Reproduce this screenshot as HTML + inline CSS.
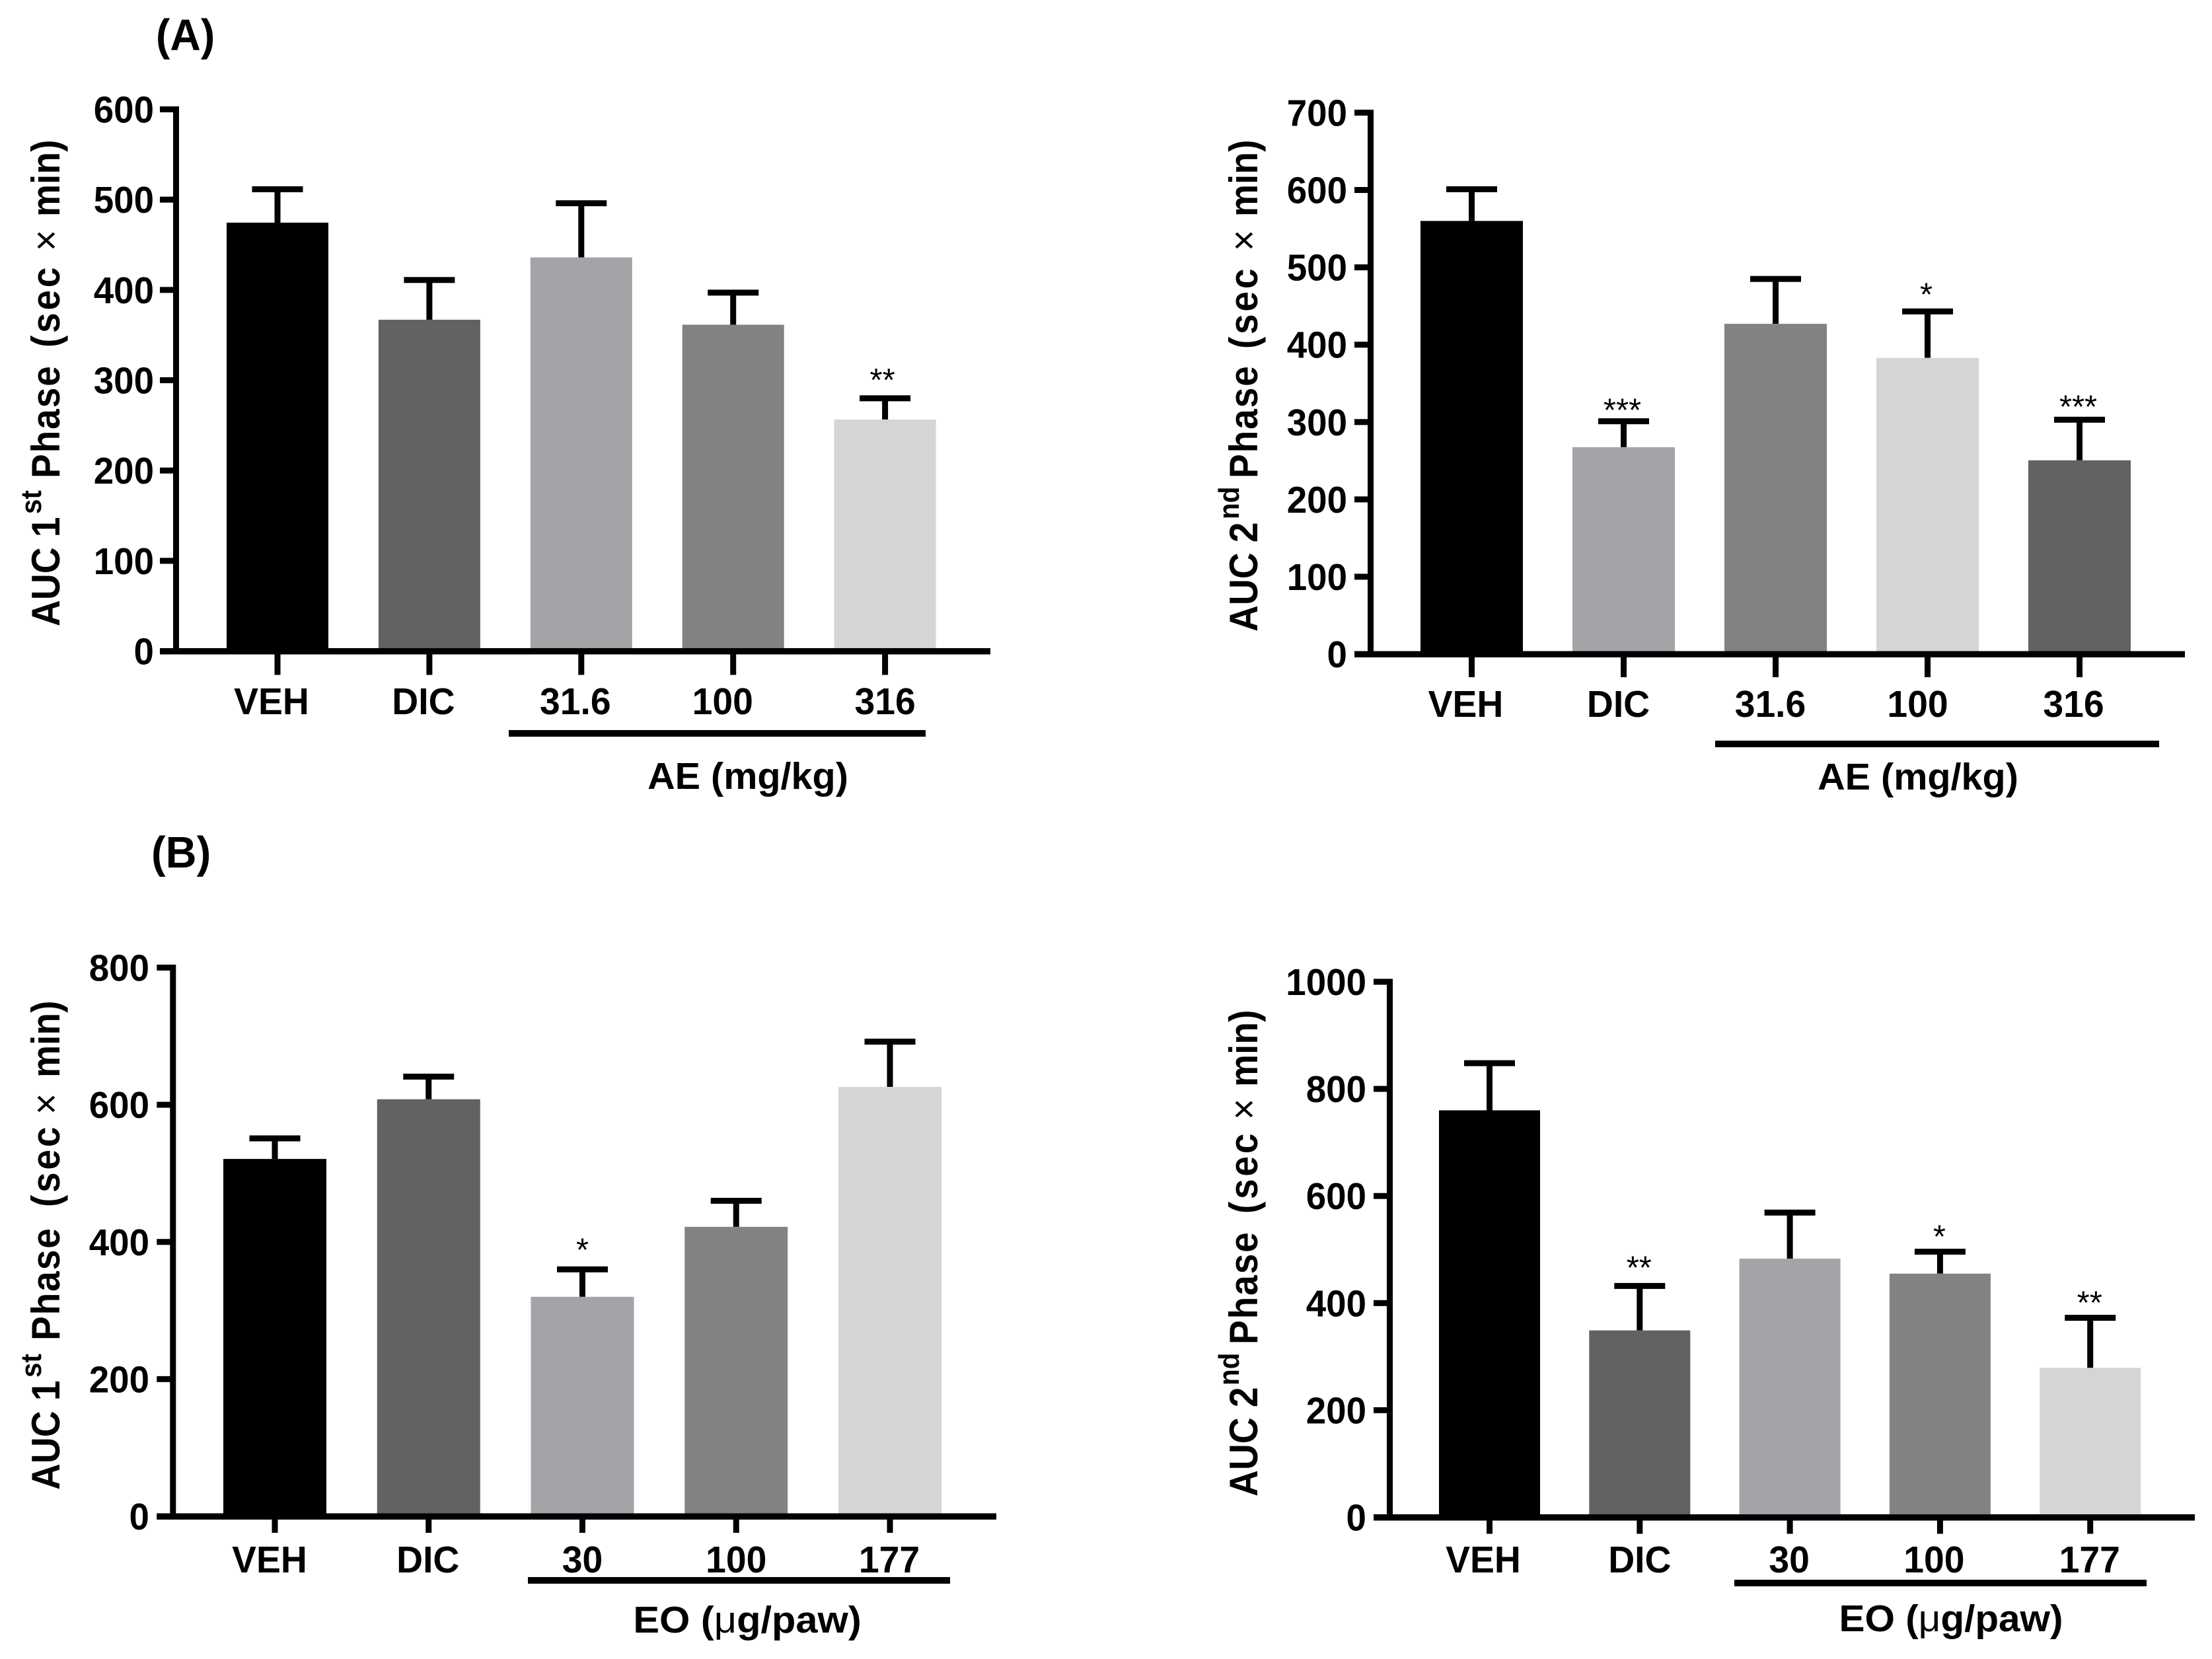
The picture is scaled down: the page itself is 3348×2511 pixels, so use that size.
<!DOCTYPE html>
<html lang="en">
<head>
<meta charset="utf-8">
<title>AUC bar charts</title>
<style>
html,body{margin:0;padding:0;background:#fff}
svg{display:block}
text{font-family:"Liberation Sans",Arial,sans-serif;fill:#000}
</style>
</head>
<body>
<svg id="figure" xmlns="http://www.w3.org/2000/svg" width="3348" height="2511" viewBox="0 0 3348 2511">
<rect x="0" y="0" width="3348" height="2511" fill="#fff"/>
<text transform="translate(236,76) scale(.96,1)" font-size="67" font-weight="700">(A)</text>
<text transform="translate(229,1313) scale(.97,1)" font-size="67" font-weight="700">(B)</text>
</svg>
<script>
const categoriesA1 = ['VEH', 'DIC', '31.6', '100', '316'];
const valuesA1 = [474.5, 367, 436, 361.5, 256.5];
const errorTopsA1 = [511.5, 411, 496, 397, 280];
const significanceA1 = ['', '', '', '', '**'];
const tickLabelsA1 = [0, 100, 200, 300, 400, 500, 600];

const categoriesA2 = ['VEH', 'DIC', '31.6', '100', '316'];
const valuesA2 = [560, 267.5, 427, 383, 250.5];
const errorTopsA2 = [601, 301, 485, 443, 303];
const significanceA2 = ['', '***', '', '*', '***'];
const tickLabelsA2 = [0, 100, 200, 300, 400, 500, 600, 700];

const categoriesB1 = ['VEH', 'DIC', '30', '100', '177'];
const valuesB1 = [521, 608, 320, 422, 626];
const errorTopsB1 = [551, 641, 360, 460, 692];
const significanceB1 = ['', '', '*', '', ''];
const tickLabelsB1 = [0, 200, 400, 600, 800];

const categoriesB2 = ['VEH', 'DIC', '30', '100', '177'];
const valuesB2 = [760, 349, 483, 455, 279];
const errorTopsB2 = [848, 432, 569, 496, 372.5];
const significanceB2 = ['', '**', '', '*', '**'];
const tickLabelsB2 = [0, 200, 400, 600, 800, 1000];

const BLACK = '#000000', DARK = '#626262', MID = '#a3a4a8', GREY = '#828282', LIGHT = '#d5d5d5';
const NS = 'http://www.w3.org/2000/svg';
const svg = document.getElementById('figure');

function makeRect(parent, x, y, w, h, fill) {
  const r = document.createElementNS(NS, 'rect');
  r.setAttribute('x', x);
  r.setAttribute('y', y);
  r.setAttribute('width', w);
  r.setAttribute('height', h);
  r.setAttribute('fill', fill);
  parent.appendChild(r);
  return r;
}

function makeText(parent, str, x, y, size, sx, anchor, weight) {
  const t = document.createElementNS(NS, 'text');
  t.setAttribute('transform', 'translate(' + x + ',' + y + ') scale(' + sx + ',1)');
  t.setAttribute('font-size', size);
  t.setAttribute('font-weight', weight);
  t.setAttribute('text-anchor', anchor);
  t.textContent = str;
  parent.appendChild(t);
  return t;
}

function makeTitle(parent, cfg) {
  const squeeze = 0.92;
  const t = document.createElementNS(NS, 'text');
  t.setAttribute('transform', 'translate(' + cfg.titleX + ',' + cfg.titleBottom + ') rotate(-90) scale(' + squeeze + ',1)');
  t.setAttribute('font-size', '60');
  t.setAttribute('font-weight', '700');
  const parts = [
    [cfg.titleLead, 0, 0, 60, 700, 0],
    [cfg.titleSup, cfg.supAt, -28, 44, 700, 0],
    ['Phase', cfg.phaseAt, 28, 60, 700, 2],
    ['(sec', cfg.parenAt, 0, 60, 700, 4],
    ['\u00d7', cfg.timesAt, 0, 60, 400, 0],
    ['min)', cfg.minAt, 0, 60, 700, 0]
  ];
  parts.forEach(function (p) {
    const s = document.createElementNS(NS, 'tspan');
    s.setAttribute('x', p[1] / squeeze);
    s.setAttribute('dy', p[2]);
    s.setAttribute('font-size', p[3]);
    s.setAttribute('font-weight', p[4]);
    s.setAttribute('letter-spacing', p[5]);
    s.textContent = p[0];
    t.appendChild(s);
  });
  parent.appendChild(t);
  return t;
}

function drawPanel(cfg, categories, values, errorTops, significance, tickLabels) {
  const g = document.createElementNS(NS, 'g');
  
  
  svg.appendChild(g);

  const yMax = tickLabels[tickLabels.length - 1];
  const yScale = function (v) { return cfg.zero - v * (cfg.zero - cfg.top) / yMax; };
  const xScale = function (i) { return cfg.x0 + i * cfg.step; };

  categories.forEach(function (cat, i) {
    const cx = xScale(i);
    const top = yScale(values[i]);
    const errTop = yScale(errorTops[i]);

    const stem = makeRect(g, cx - 4.5, errTop, 9, top - errTop, BLACK);
    
    

    const cap = makeRect(g, cx - 38.5, errTop - 4.5, 77, 9, BLACK);
    
    

    const bar = makeRect(g, cx - cfg.barWidth / 2, top, cfg.barWidth, cfg.zero - top, cfg.colors[i]);
    
    

    const tick = makeRect(g, cx - 4.5, cfg.zero, 9, cfg.tickLen, BLACK);
    
    

    const label = makeText(g, cat, cx + cfg.labelDx[i], cfg.labelY, 57, 0.97, 'middle', 700);
    
    

    if (significance[i]) {
      const star = makeText(g, significance[i], cx + cfg.starDx, errTop - cfg.starGap[i] + 21, 49, 1, 'middle', 400);
      
      
    }
  });

  tickLabels.forEach(function (v) {
    const y = yScale(v);
    const tick = makeRect(g, cfg.axisX - 24.5, y - 4.5, 24.5, 9, BLACK);
    
    

    const label = makeText(g, String(v), cfg.labelRight, y + 20, 57, 0.96, 'end', 700);
    
    
  });

  const yAxis = makeRect(g, cfg.axisX - 4.5, cfg.top - 4.5, 9, cfg.zero - cfg.top + 9, BLACK);
  
  

  const xAxis = makeRect(g, cfg.axisX - 24.5, cfg.zero - 4.5, cfg.xEnd - cfg.axisX + 24.5, 9.5, BLACK);
  
  

  const under = makeRect(g, cfg.lineStart, cfg.lineY - 5, cfg.lineEnd - cfg.lineStart, 10, BLACK);
  
  

  const group = document.createElementNS(NS, 'text');
  group.setAttribute('transform', 'translate(' + cfg.groupX + ',' + cfg.groupY + ') scale(' + cfg.groupSx + ',1)');
  group.setAttribute('font-size', '57');
  group.setAttribute('font-weight', '700');
  group.setAttribute('text-anchor', 'middle');
  
  
  cfg.groupParts.forEach(function (p) {
    const s = document.createElementNS(NS, 'tspan');
    s.setAttribute('font-weight', p[1]);
    s.textContent = p[0];
    group.appendChild(s);
  });
  g.appendChild(group);

  const title = makeTitle(g, cfg);
  
  
}

drawPanel({
  name: 'chart-ae-first-phase', colors: [BLACK, DARK, MID, GREY, LIGHT],
  top: 165.5, zero: 985.5, axisX: 266.5, xEnd: 1499, x0: 420, step: 229.9, barWidth: 154, tickLen: 36,
  labelRight: 233, labelY: 1081, labelDx: [-9, -9, -9, -16, 0], starGap: [0, 0, 0, 0, 32], starDx: -4,
  lineStart: 770, lineEnd: 1401, lineY: 1110, groupX: 1132, groupY: 1194, groupSx: 1.01,
  groupParts: [['AE (mg/kg)', 700]],
  titleX: 90, titleBottom: 948, titleLead: 'AUC 1', titleSup: 'st',
  supAt: 170, phaseAt: 224, parenAt: 422, timesAt: 568, minAt: 620
}, categoriesA1, valuesA1, errorTopsA1, significanceA1, tickLabelsA1);

drawPanel({
  name: 'chart-ae-second-phase', colors: [BLACK, MID, GREY, LIGHT, DARK],
  top: 170.5, zero: 990, axisX: 2074.5, xEnd: 3307, x0: 2227.5, step: 230, barWidth: 155, tickLen: 35,
  labelRight: 2039, labelY: 1085, labelDx: [-9, -8, -8, -15, -9], starGap: [0, 21, 0, 30, 24], starDx: -2,
  lineStart: 2596, lineEnd: 3268, lineY: 1126, groupX: 2903, groupY: 1195, groupSx: 1.01,
  groupParts: [['AE (mg/kg)', 700]],
  titleX: 1903, titleBottom: 956, titleLead: 'AUC 2', titleSup: 'nd',
  supAt: 170, phaseAt: 232, parenAt: 428, timesAt: 576, minAt: 628
}, categoriesA2, valuesA2, errorTopsA2, significanceA2, tickLabelsA2);

drawPanel({
  name: 'chart-eo-first-phase', colors: [BLACK, DARK, MID, GREY, LIGHT],
  top: 1464.5, zero: 2295, axisX: 261.8, xEnd: 1508, x0: 416, step: 232.75, barWidth: 156, tickLen: 25,
  labelRight: 226, labelY: 2380, labelDx: [-8, -1, 0, 0, -1], starGap: [0, 0, 34, 0, 0], starDx: 0,
  lineStart: 799, lineEnd: 1438, lineY: 2392, groupX: 1131, groupY: 2471, groupSx: 1.045,
  groupParts: [['EO (', 700], ['\u03bc', 400], ['g/paw)', 700]],
  titleX: 90, titleBottom: 2255, titleLead: 'AUC 1', titleSup: 'st',
  supAt: 170, phaseAt: 226, parenAt: 428, timesAt: 568, minAt: 624
}, categoriesB1, valuesB1, errorTopsB1, significanceB1, tickLabelsB1);

drawPanel({
  name: 'chart-eo-second-phase', colors: [BLACK, DARK, MID, GREY, LIGHT],
  top: 1486, zero: 2296.5, axisX: 2103.5, xEnd: 3322, x0: 2254.5, step: 227.3, barWidth: 153, tickLen: 25,
  labelRight: 2068, labelY: 2380, labelDx: [-9.5, 0, -1, -9, -1], starGap: [0, 32, 0, 27, 27], starDx: -1,
  lineStart: 2625, lineEnd: 3249, lineY: 2396, groupX: 2953, groupY: 2469, groupSx: 1.026,
  groupParts: [['EO (', 700], ['\u03bc', 400], ['g/paw)', 700]],
  titleX: 1903, titleBottom: 2265, titleLead: 'AUC 2', titleSup: 'nd',
  supAt: 168, phaseAt: 230, parenAt: 428, timesAt: 570, minAt: 620
}, categoriesB2, valuesB2, errorTopsB2, significanceB2, tickLabelsB2);
</script>
</body>
</html>
